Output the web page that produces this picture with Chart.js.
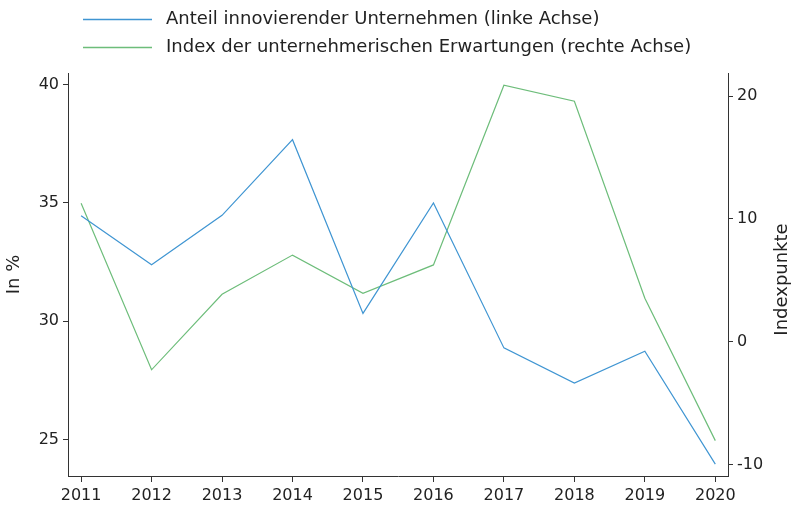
<!DOCTYPE html>
<html>
<head>
<meta charset="utf-8">
<script src="https://cdn.jsdelivr.net/npm/chart.js@4"></script>
<style>
  html, body { margin: 0; padding: 0; background: #fff; }
  #wrap { width: 792px; height: 508px; }
</style>
</head>
<body>
<div id="wrap"><canvas id="chart"></canvas></div>
<script>
const years = [2011, 2012, 2013, 2014, 2015, 2016, 2017, 2018, 2019, 2020];
const shareInnov = [34.46, 32.39, 34.48, 37.68, 30.33, 35.0, 28.87, 27.38, 28.73, 23.95];
const expectIndex = [11.27, -2.29, 3.86, 7.05, 3.94, 6.25, 20.88, 19.58, 3.53, -8.06];
const leftTicks = [25, 30, 35, 40];
const rightTicks = [-10, 0, 10, 20];
const labelLeft = 'Anteil innovierender Unternehmen (linke Achse)';
const labelRight = 'Index der unternehmerischen Erwartungen (rechte Achse)';
const rightTitle = 'Indexpunkte';

const FONT = '"DejaVu Sans", sans-serif';
const TXT = '#222';
const AXIS = '#333';

// legend rows at the top and the right axis title (reads bottom to top)
const extras = {
    id: 'extras',
    afterDraw(chart) {
        const ctx = chart.ctx;
        ctx.save();
        ctx.font = '18px ' + FONT;
        ctx.textBaseline = 'middle';
        chart.data.datasets.forEach((ds, i) => {
            const y = 19.5 + i * 28;
            ctx.strokeStyle = ds.borderColor;
            ctx.lineWidth = 1.3;
            ctx.beginPath();
            ctx.moveTo(83, y);
            ctx.lineTo(152, y);
            ctx.stroke();
            ctx.fillStyle = TXT;
            ctx.fillText(ds.label, 166, y);
        });
        const s = chart.scales.y1;
        ctx.translate(782, (s.top + s.bottom) / 2 + 5);
        ctx.rotate(-Math.PI / 2);
        ctx.textAlign = 'center';
        ctx.fillText(rightTitle, 0, 0);
        ctx.restore();
    }
};

function axisBase() {
    return {
        grid: { drawOnChartArea: false, drawTicks: true, tickLength: 5, color: AXIS, lineWidth: 1 },
        border: { display: true, color: AXIS, width: 1 },
        ticks: { color: TXT, font: { family: FONT, size: 16 }, padding: 4 }
    };
}

window.onload = () => {
    const ctx = document.getElementById('chart').getContext('2d');

    const x = axisBase();
    Object.assign(x, {
        type: 'linear',
        min: 2010.814,
        max: 2020.18,
        afterBuildTicks: s => { s.ticks = years.map(v => ({ value: v })); },
        afterFit: s => { s.height = 32; }
    });
    x.ticks.callback = v => String(v);
    x.ticks.maxRotation = 0;
    x.ticks.autoSkip = false;
    x.grid.tickLength = 6;

    const y = axisBase();
    Object.assign(y, {
        position: 'left',
        min: 23.45,
        max: 40.5,
        afterBuildTicks: s => { s.ticks = leftTicks.map(v => ({ value: v })); },
        afterFit: s => { s.width = 68; },
        title: { display: true, text: 'In %', color: TXT, font: { family: FONT, size: 18 }, padding: { top: 4, bottom: 0 } }
    });

    const y1 = axisBase();
    Object.assign(y1, {
        position: 'right',
        min: -10.94,
        max: 21.88,
        afterBuildTicks: s => { s.ticks = rightTicks.map(v => ({ value: v })); },
        afterFit: s => { s.width = 64; }
    });

    new Chart(ctx, {
        type: 'line',
        data: {
            datasets: [
                {
                    label: labelLeft,
                    data: years.map((yr, i) => ({ x: yr, y: shareInnov[i] })),
                    borderColor: '#3f95d2',
                    borderWidth: 1.2,
                    pointRadius: 0,
                    tension: 0,
                    yAxisID: 'y'
                },
                {
                    label: labelRight,
                    data: years.map((yr, i) => ({ x: yr, y: expectIndex[i] })),
                    borderColor: '#6dbd7a',
                    borderWidth: 1.2,
                    pointRadius: 0,
                    tension: 0,
                    yAxisID: 'y1'
                }
            ]
        },
        options: {
            responsive: true,
            maintainAspectRatio: false,
            animation: false,
            layout: { padding: { top: 73, left: 0, right: 0, bottom: 0 } },
            plugins: {
                legend: { display: false },
                tooltip: { enabled: false }
            },
            scales: { x, y, y1 }
        },
        plugins: [extras]
    });
};
</script>
</body>
</html>
